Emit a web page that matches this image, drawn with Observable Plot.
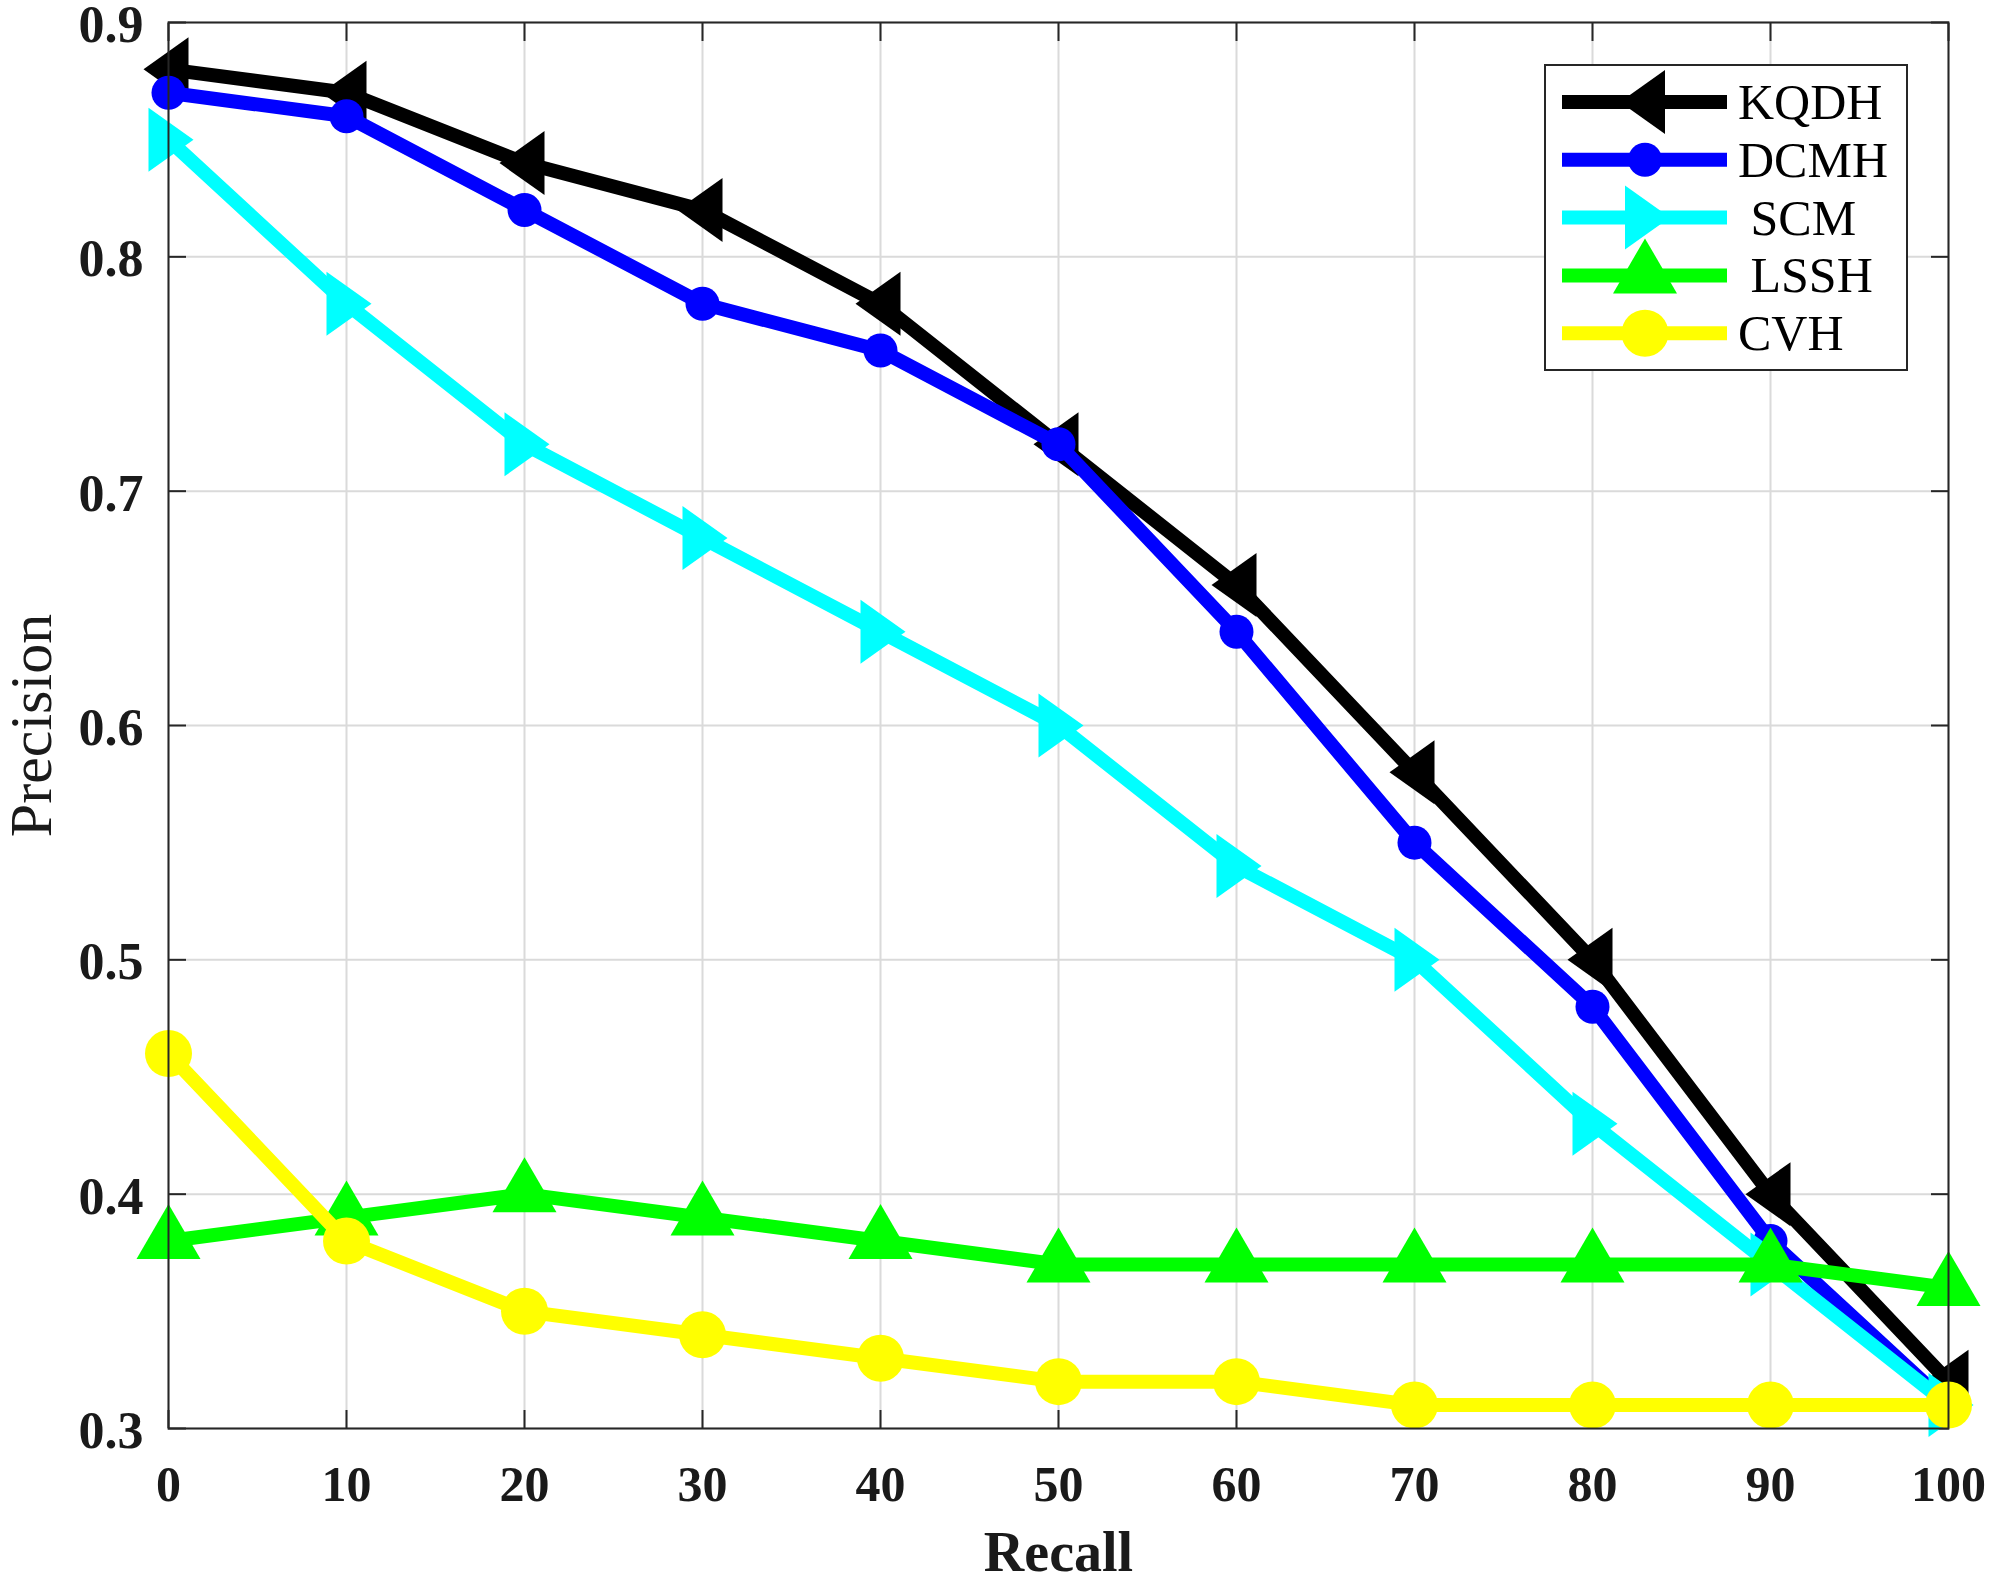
<!DOCTYPE html>
<html>
<head>
<meta charset="utf-8">
<script src="https://cdn.jsdelivr.net/npm/d3@7"></script>
<script src="https://cdn.jsdelivr.net/npm/@observablehq/plot@0.6"></script>
<style>
  html, body { margin: 0; padding: 0; background: #ffffff; }
  #chart { width: 1995px; height: 1584px; }
  #chart svg { display: block; }
</style>
</head>
<body>
<div id="chart"></div>
<script>
// ---------- data ----------
const recall = [0, 10, 20, 30, 40, 50, 60, 70, 80, 90, 100];
const seriesNames = ["KQDH", "DCMH", "SCM", "LSSH", "CVH"];
const legendLabels = ["KQDH", "DCMH", " SCM", " LSSH", "CVH"];
const kqdh = [0.88, 0.87, 0.84, 0.82, 0.78, 0.72, 0.66, 0.58, 0.50, 0.40, 0.32];
const dcmh = [0.87, 0.86, 0.82, 0.78, 0.76, 0.72, 0.64, 0.55, 0.48, 0.38, 0.31];
const scm  = [0.85, 0.78, 0.72, 0.68, 0.64, 0.60, 0.54, 0.50, 0.43, 0.37, 0.31];
const lssh = [0.38, 0.39, 0.40, 0.39, 0.38, 0.37, 0.37, 0.37, 0.37, 0.37, 0.36];
const cvh  = [0.46, 0.38, 0.35, 0.34, 0.33, 0.32, 0.32, 0.31, 0.31, 0.31, 0.31];
const xTicks = [0, 10, 20, 30, 40, 50, 60, 70, 80, 90, 100];
const xTickLabels = ["0", "10", "20", "30", "40", "50", "60", "70", "80", "90", "100"];
const yTicks = [0.3, 0.4, 0.5, 0.6, 0.7, 0.8, 0.9];
const yTickLabels = ["0.3", "0.4", "0.5", "0.6", "0.7", "0.8", "0.9"];
const xLabel = "Recall";
const yLabel = "Precision";

// ---------- styles ----------
const FONT = "'Liberation Serif', 'Times New Roman', serif";
const colors = ["#000000", "#0000ff", "#00ffff", "#00ff00", "#ffff00"];
const AXIS = "#262626";

// custom marker shapes (MATLAB-like triangles)
const triLeft  = { draw(c) { c.moveTo(-25, 0); c.lineTo(20, -32); c.lineTo(20, 32); c.closePath(); } };
const triRight = { draw(c) { c.moveTo(25, 0); c.lineTo(-20, -32); c.lineTo(-20, 32); c.closePath(); } };
const triUp    = { draw(c) { c.moveTo(0, -37); c.lineTo(32, 18); c.lineTo(-32, 18); c.closePath(); } };
const markerSpec = [
  { symbol: triLeft, r: 20 },
  { symbol: "circle", r: 17 },
  { symbol: triRight, r: 20 },
  { symbol: triUp, r: 20 },
  { symbol: "circle", r: 23.5 }
];

const seriesValues = [kqdh, dcmh, scm, lssh, cvh];
const tables = seriesValues.map((vals, s) =>
  recall.map((r, i) => ({ recall: r, precision: vals[i], series: seriesNames[s] }))
);

const seriesMarks = tables.flatMap((rows, s) => [
  Plot.line(rows, {
    x: "recall", y: "precision",
    stroke: colors[s], strokeWidth: 14, strokeLinejoin: "round", strokeLinecap: "butt"
  }),
  Plot.dot(rows, {
    x: "recall", y: "precision",
    symbol: markerSpec[s].symbol, r: markerSpec[s].r,
    fill: colors[s], stroke: "none"
  })
]);

const chart = Plot.plot({
  width: 1995,
  height: 1584,
  marginTop: 22,
  marginRight: 47,
  marginBottom: 156,
  marginLeft: 168,
  style: { fontFamily: FONT, background: "#ffffff", overflow: "visible" },
  x: { domain: [0, 100] },
  y: { domain: [0.3, 0.9] },
  marks: [
    Plot.gridX(xTicks, { stroke: "#dadada", strokeOpacity: 1, strokeWidth: 2 }),
    Plot.gridY(yTicks, { stroke: "#dadada", strokeOpacity: 1, strokeWidth: 2 }),
    // inward ticks on all four sides
    Plot.axisX(xTicks, { anchor: "bottom", tickSize: 18, dy: -18, fill: "none", stroke: AXIS, strokeWidth: 2, label: null }),
    Plot.axisX(xTicks, { anchor: "top", tickSize: 18, dy: 18, fill: "none", stroke: AXIS, strokeWidth: 2, label: null }),
    Plot.axisY(yTicks, { anchor: "left", tickSize: 18, dx: 18, fill: "none", stroke: AXIS, strokeWidth: 2, label: null }),
    Plot.axisY(yTicks, { anchor: "right", tickSize: 18, dx: -18, fill: "none", stroke: AXIS, strokeWidth: 2, label: null }),
    // tick labels
    Plot.axisX(xTicks, {
      anchor: "bottom", tickSize: 0, tickPadding: 37, label: null,
      tickFormat: d => xTickLabels[xTicks.indexOf(d)],
      fontSize: 50, fontWeight: "bold", fill: "#1a1a1a", fontFamily: FONT
    }),
    Plot.axisY(yTicks, {
      anchor: "left", tickSize: 0, tickPadding: 25, label: null, dy: 3,
      tickFormat: d => yTickLabels[yTicks.indexOf(d)],
      fontSize: 52, fontWeight: "bold", fill: "#1a1a1a", fontFamily: FONT
    }),
    ...seriesMarks,
    Plot.frame({ stroke: AXIS, strokeWidth: 2 }),
    // axis titles
    Plot.text([xLabel], {
      text: d => d, frameAnchor: "bottom", dy: 142, lineAnchor: "bottom",
      fontSize: 56, fontWeight: "bold", fill: "#1a1a1a", fontFamily: FONT
    }),
    Plot.text([yLabel], {
      text: d => d, frameAnchor: "left", dx: -118, rotate: -90, lineAnchor: "bottom",
      textAnchor: "middle", fontSize: 60, fill: "#1a1a1a", fontFamily: FONT
    })
  ]
});

// ---------- legend (inside the axes, top right) ----------
const svg = d3.select(chart);
const leg = svg.append("g").attr("class", "legend").attr("text-anchor", "start");
const L = { x: 1545, y: 65, w: 362, h: 305, row0: 102, rowStep: 57.8, lineX1: 1562, lineX2: 1727, markX: 1645, textX: 1738 };
leg.append("rect")
  .attr("x", L.x).attr("y", L.y).attr("width", L.w).attr("height", L.h)
  .attr("fill", "#ffffff").attr("stroke", AXIS).attr("stroke-width", 2);
seriesNames.forEach((name, i) => {
  const cy = L.row0 + i * L.rowStep;
  leg.append("line")
    .attr("x1", L.lineX1).attr("x2", L.lineX2).attr("y1", cy).attr("y2", cy)
    .attr("stroke", colors[i]).attr("stroke-width", 14);
  const spec = markerSpec[i];
  const type = spec.symbol === "circle" ? d3.symbolCircle : spec.symbol;
  leg.append("path")
    .attr("d", d3.symbol(type, Math.PI * spec.r * spec.r)())
    .attr("transform", `translate(${L.markX},${cy})`)
    .attr("fill", colors[i]);
  leg.append("text")
    .attr("x", L.textX).attr("y", cy + 17)
    .attr("text-anchor", "start")
    .attr("font-family", FONT).attr("font-size", 50).attr("fill", "#000000")
    .style("white-space", "pre")
    .text(legendLabels[i]);
});

document.getElementById("chart").appendChild(chart);
</script>
</body>
</html>
